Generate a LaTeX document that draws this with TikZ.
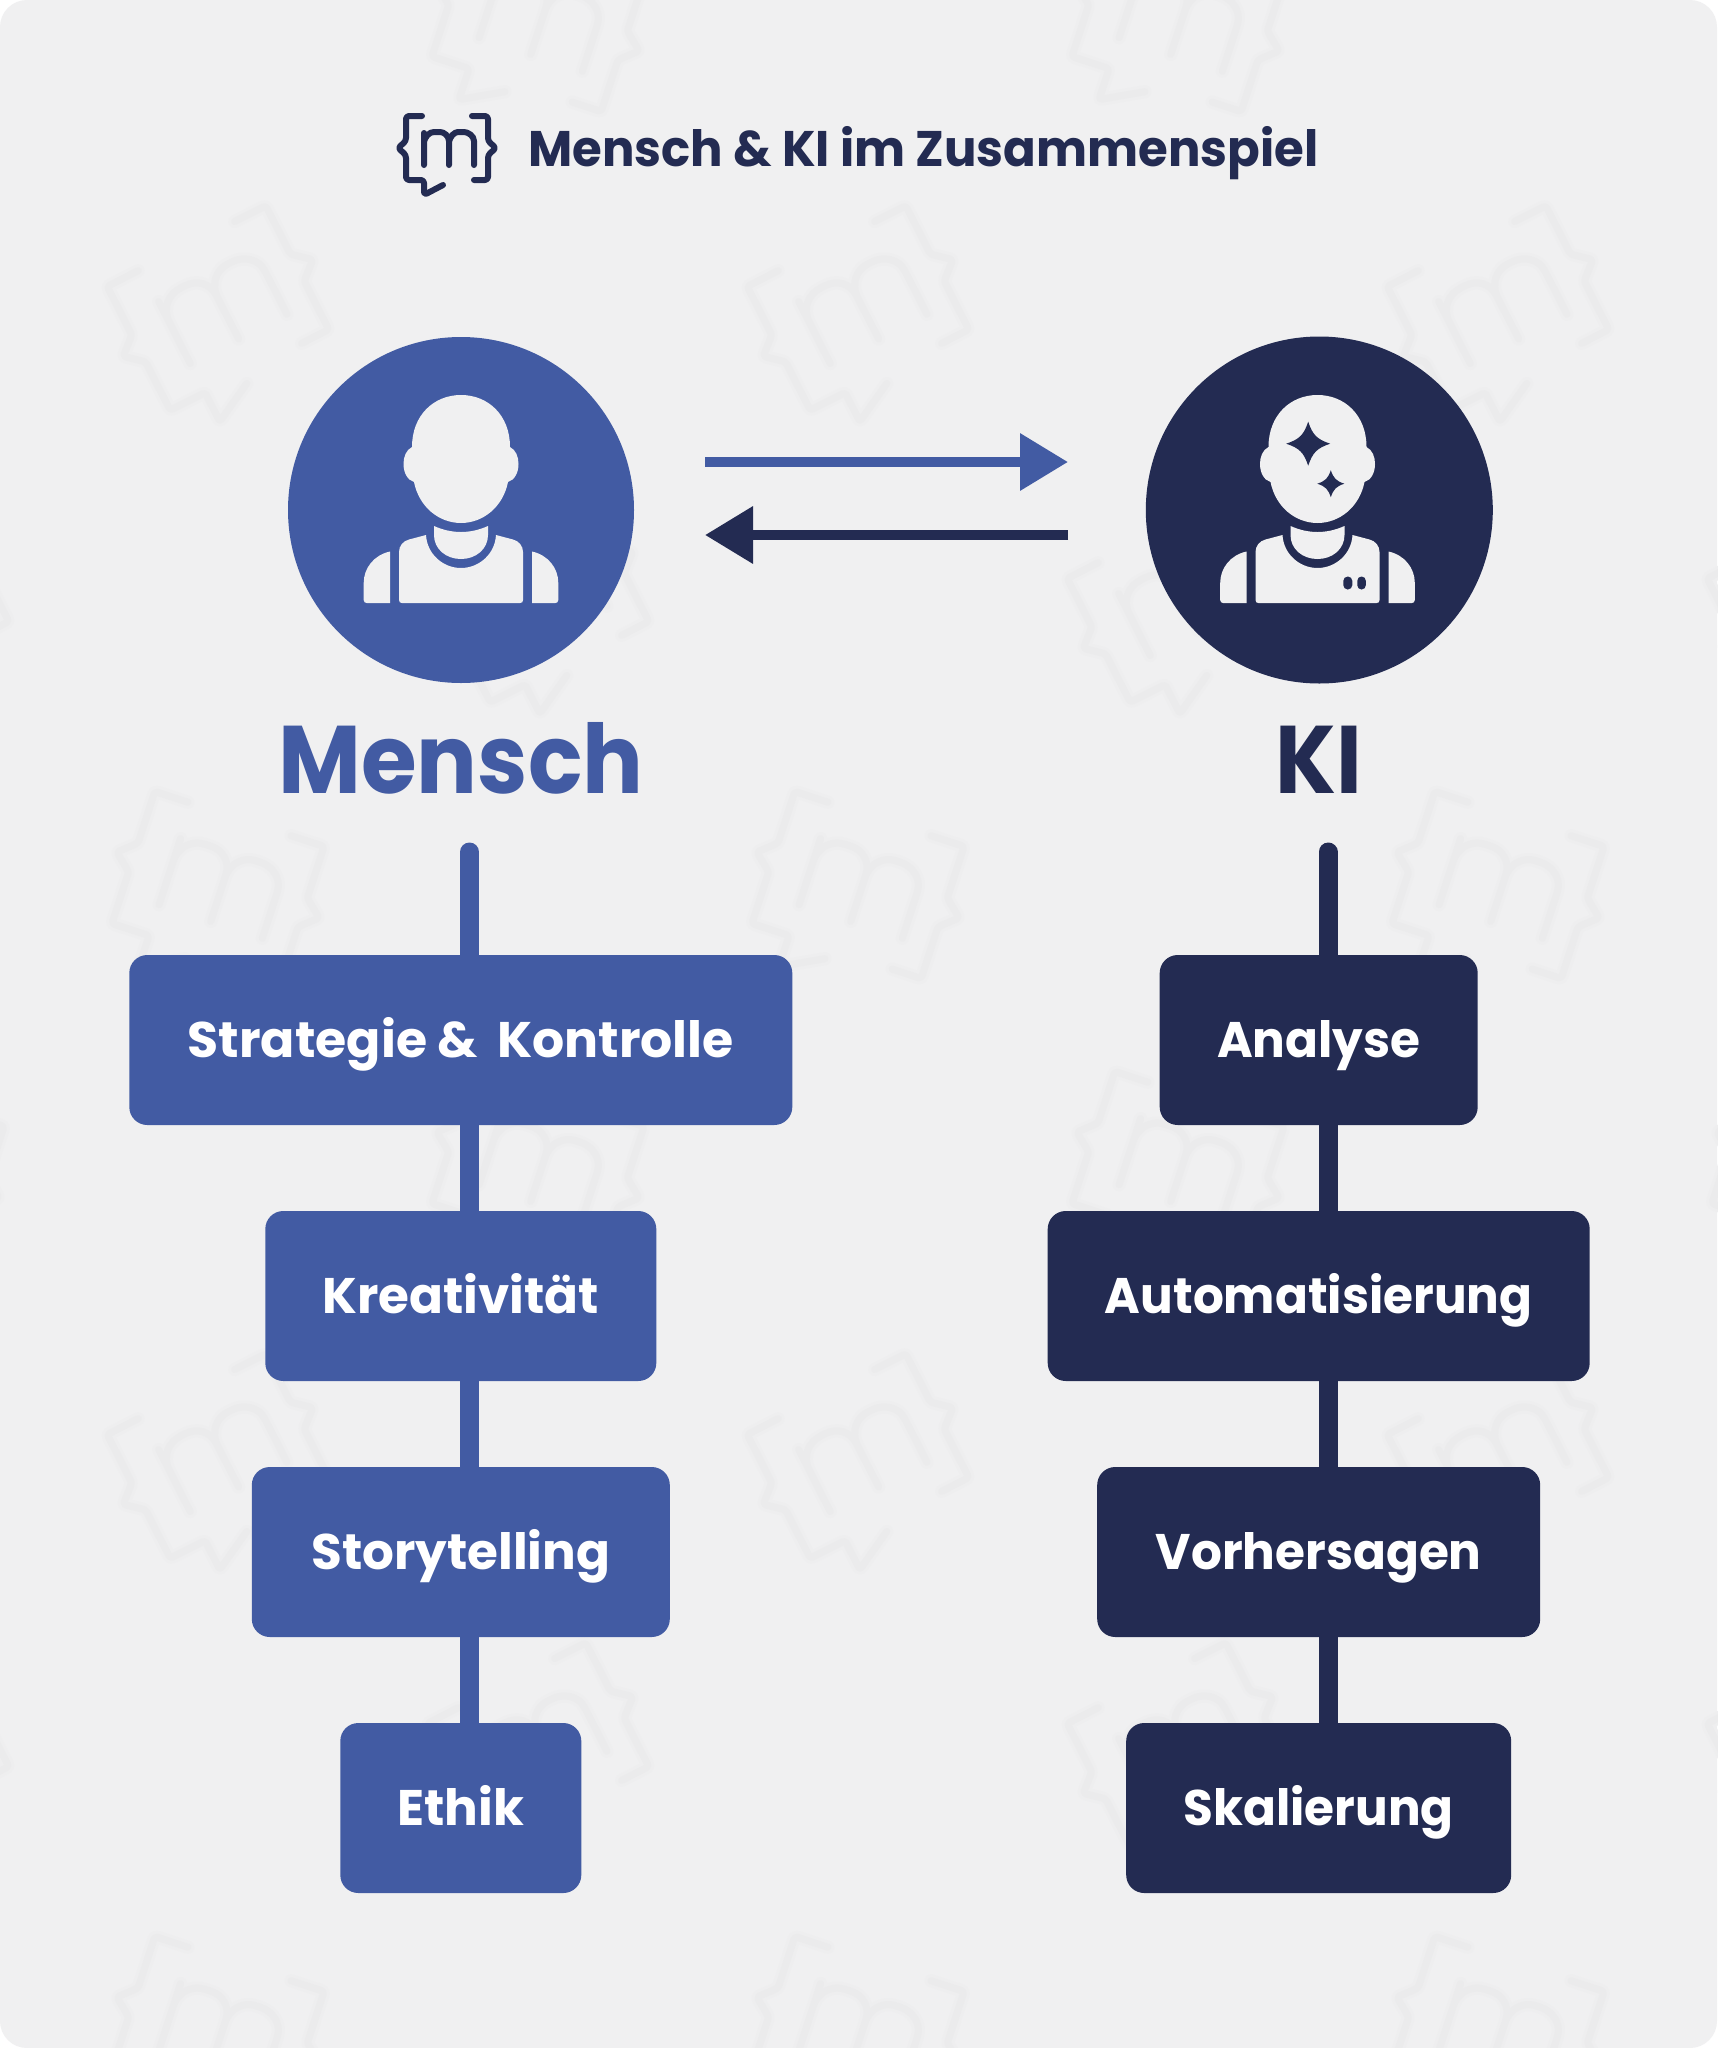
\documentclass[tikz,border=0pt]{standalone}
\usepackage{fontspec}
\setmainfont{Poppins}[UprightFont=* SemiBold,BoldFont=* Bold]
\usetikzlibrary{arrows.meta}
\definecolor{cardbg}{HTML}{F0F0F1}
\definecolor{wmarkA}{HTML}{EEEEEF}
\definecolor{wmarkB}{HTML}{EBEBEC}
\definecolor{mblue}{HTML}{425BA3}
\definecolor{mnavy}{HTML}{232B52}
\newcommand{\fs}[1]{\fontsize{#1}{#1}\selectfont}
\newcommand{\kistar}[3]{%
  \fill[mnavy] (#1,#2-#3) .. controls (#1+.2*#3,#2-.4*#3) and (#1+.4*#3,#2-.2*#3) .. (#1+#3,#2)
   .. controls (#1+.4*#3,#2+.2*#3) and (#1+.2*#3,#2+.4*#3) .. (#1,#2+#3)
   .. controls (#1-.2*#3,#2+.4*#3) and (#1-.4*#3,#2+.2*#3) .. (#1-#3,#2)
   .. controls (#1-.4*#3,#2-.2*#3) and (#1-.2*#3,#2-.4*#3) .. cycle;}
\tikzset{
  x=1pt,y=-1pt,
  logo line/.style={draw=#1,line join=round,line cap=round},
  boxbase/.style={rounded corners=18pt,minimum height=170pt,inner sep=0pt,
    text=white,font=\fs{50}\bfseries,text height=35pt,text depth=0pt,anchor=center},
  bluebox/.style={boxbase,fill=mblue},
  navybox/.style={boxbase,fill=mnavy},
  bluelink/.style={draw=mblue,line width=19pt},
  navylink/.style={draw=mnavy,line width=19pt},
  logomark/.pic={
    \path[pic actions,fill=none]
      (-25,-32) [rounded corners=3pt] -- (-41,-32) -- (-41,-7) -- (-49,0) -- (-41,7) -- (-41,32) -- (-23,32) -- (-23,47) -- (-4,37)
      (25,-32) -- (41,-32) -- (41,-7) -- (49,0) -- (41,7) -- (41,32) -- (27,32)
      (-23,17) -- (-23,-15)
      (-23,-4) .. controls (-23,-12) and (-17,-16) .. (-10,-16) .. controls (-3,-16) and (2,-12) .. (2,-4) -- (2,17)
      (2,-4) .. controls (2,-12) and (8,-16) .. (14,-16) .. controls (21,-16) and (27,-12) .. (27,-4) -- (27,17);
  },
  personicon/.pic={
    \fill[cardbg] (-49,-63) .. controls (-49,-95) and (-27,-115) .. (0,-115)
      .. controls (27,-115) and (49,-95) .. (49,-63)
      .. controls (55,-60) and (57.5,-53) .. (57.5,-46)
      .. controls (57.5,-38) and (54,-30) .. (47,-28)
      .. controls (42,-3) and (22,13) .. (0,13)
      .. controls (-22,13) and (-42,-3) .. (-47,-28)
      .. controls (-54,-30) and (-57.5,-38) .. (-57.5,-46)
      .. controls (-57.5,-53) and (-55,-60) .. (-49,-63) -- cycle;
    \fill[cardbg] (-27,16) .. controls (-18,20) and (-9,22) .. (0,22)
      .. controls (9,22) and (18,20) .. (27,16) -- (27,25)
      .. controls (27,39) and (15,49) .. (0,49)
      .. controls (-15,49) and (-27,39) .. (-27,25) -- cycle;
    \fill[cardbg] (-35,25) .. controls (-34,44) and (-18,58) .. (0,58)
      .. controls (18,58) and (34,44) .. (35,25) -- (52,29.5)
      .. controls (58,31) and (62,36) .. (62,42) -- (62,90)
      .. controls (62,92) and (61,93) .. (59,93) -- (-59,93)
      .. controls (-61,93) and (-62,92) .. (-62,90) -- (-62,42)
      .. controls (-62,36) and (-58,31) .. (-52,29.5) -- cycle;
    \fill[cardbg] (71,41.5) .. controls (87,45) and (97.3,58) .. (97.3,73) -- (97.3,90)
      .. controls (97.3,92) and (96,93) .. (94.3,93) -- (71,93) -- cycle;
    \fill[cardbg] (-71,41.5) .. controls (-87,45) and (-97.3,58) .. (-97.3,73) -- (-97.3,90)
      .. controls (-97.3,92) and (-96,93) .. (-94.3,93) -- (-71,93) -- cycle;
  },
}
\begin{document}
\begin{tikzpicture}
\useasboundingbox (0,0) rectangle (1717,2048);
\fill[white] (0,0) rectangle (1717,2048);
\fill[cardbg,rounded corners=27pt] (0,0) rectangle (1717,2048);
% watermark tiles
\foreach \px/\py/\rot in {218/308/27,858/308/27,1498/308/27,
  218/885/-18,858/885/-18,1498/885/-18,
  218/1456/27,858/1456/27,1498/1456/27,
  218/2030/-18,858/2030/-18,1498/2030/-18,
  538/18/-18,1178/18/-18,
  -102/600/27,538/600/27,1178/600/27,1818/600/27,
  -102/1165/-18,538/1165/-18,1178/1165/-18,1818/1165/-18,
  -102/1745/27,538/1745/27,1178/1745/27,1818/1745/27}
  {\pic[logo line=wmarkA,line width=13pt,scale=2.17,rotate=\rot] at (\px,\py) {logomark};
   \pic[logo line=wmarkB,line width=7pt,scale=2.17,rotate=\rot] at (\px,\py) {logomark};}
% title
\pic[logo line=mnavy,line width=6pt] at (447,148) {logomark};
\node[anchor=base west,inner sep=0pt,text=mnavy,font=\fs{50}\bfseries] (title) at (528,166) {\scalebox{.964}[1]{Mensch \& KI im Zusammenspiel}};
% circles
\node[circle,fill=mblue,minimum size=346pt,inner sep=0pt] (mcirc) at (461,510) {};
\node[circle,fill=mnavy,minimum size=347pt,inner sep=0pt] (kcirc) at (1319.3,510) {};
\pic at (461,510) {personicon};
\pic at (1317.5,510) {personicon};
\kistar{1308.2}{443.7}{22}
\kistar{1330.8}{483.7}{13.5}
\fill[mnavy,rounded corners=4.4pt] (1343.3,576.5) rectangle (1352.3,589.5);
\fill[mnavy,rounded corners=4.2pt] (1357.3,576.5) rectangle (1365.8,589.5);
% arrows
\coordinate (a1s) at (705,462);
\coordinate (a1e) at (1068,462);
\coordinate (a2s) at (1068,535);
\coordinate (a2e) at (705,535);
\draw[mblue,line width=10pt,-{Triangle[length=48pt,width=55pt]}] (a1s) -- (a1e);
\draw[mnavy,line width=10pt,-{Triangle[length=48pt,width=55pt]}] (a2s) -- (a2e);
% headings
\node[anchor=base,inner sep=0pt,text=mblue,font=\fs{96}\bfseries] (mhead) at (461,793) {\scalebox{.94}[1]{Mensch}};
\node[anchor=base,inner sep=0pt,text=mnavy,font=\fs{96}\bfseries] (khead) at (1318.5,793) {\scalebox{.91}[1]{KI}};
% left column
\coordinate (mtop) at (469.5,852);
\coordinate (ktop) at (1328,852);
\node[bluebox,minimum width=663pt] (m1) at (460.8,1040) {\scalebox{1.01}[1]{Strategie \&~\,Kontrolle}};
\node[bluebox,minimum width=391pt] (m2) at (460.8,1296) {Kreativität};
\node[bluebox,minimum width=418pt] (m3) at (460.8,1552) {Storytelling};
\node[bluebox,minimum width=241pt] (m4) at (460.8,1808) {Ethik};
\node[navybox,minimum width=318pt] (k1) at (1318.7,1040) {\scalebox{.97}[1]{Analyse}};
\node[navybox,minimum width=542pt] (k2) at (1318.7,1296) {\scalebox{.97}[1]{Automatisierung}};
\node[navybox,minimum width=443pt] (k3) at (1318.7,1552) {\scalebox{.97}[1]{Vorhersagen}};
\node[navybox,minimum width=385pt] (k4) at (1318.7,1808) {\scalebox{.97}[1]{Skalierung}};
\draw[bluelink,line cap=round] (mtop) -- ([xshift=8.7pt]m1.north);
\draw[navylink,line cap=round] (ktop) -- ([xshift=9.3pt]k1.north);
\draw[bluelink] ([xshift=8.7pt]m1.south) -- ([xshift=8.7pt]m2.north);
\draw[bluelink] ([xshift=8.7pt]m2.south) -- ([xshift=8.7pt]m3.north);
\draw[bluelink] ([xshift=8.7pt]m3.south) -- ([xshift=8.7pt]m4.north);
\draw[navylink] ([xshift=9.3pt]k1.south) -- ([xshift=9.3pt]k2.north);
\draw[navylink] ([xshift=9.3pt]k2.south) -- ([xshift=9.3pt]k3.north);
\draw[navylink] ([xshift=9.3pt]k3.south) -- ([xshift=9.3pt]k4.north);
\end{tikzpicture}
\end{document}
